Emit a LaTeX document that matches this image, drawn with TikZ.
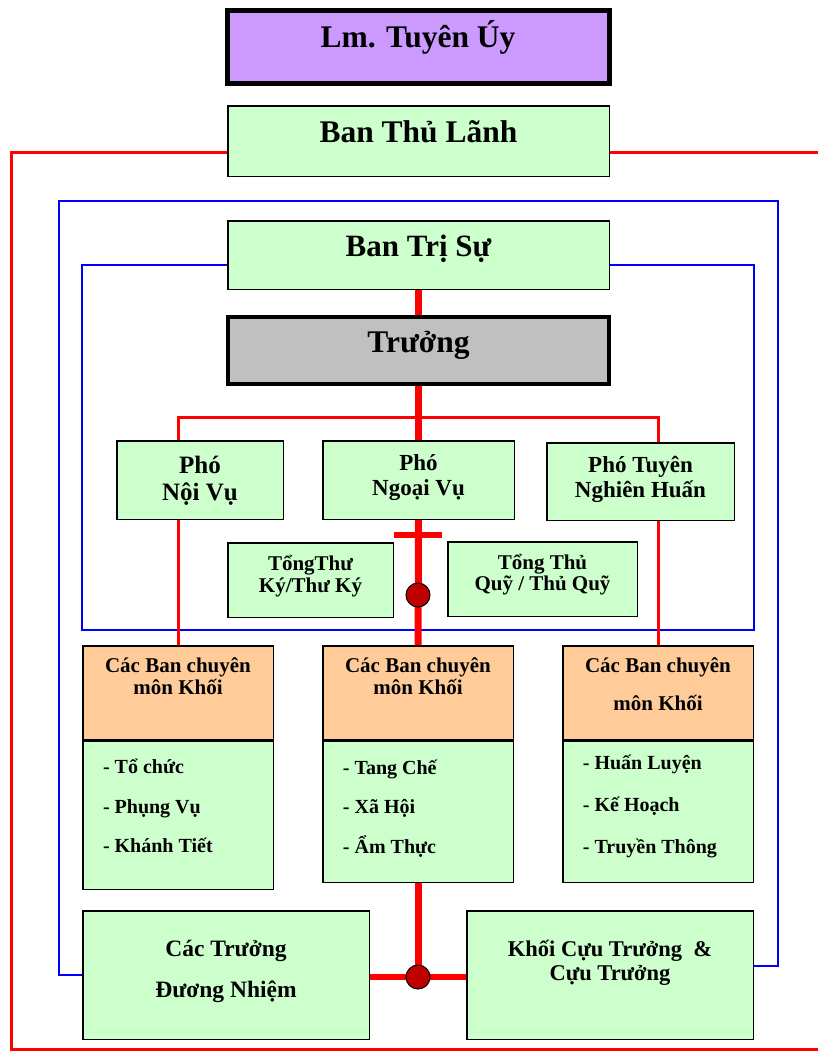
\documentclass[tikz,border=0pt]{standalone}
\usepackage{fontspec}
\setmainfont{Liberation Serif}
\usetikzlibrary{positioning}
\definecolor{boxgreen}{HTML}{CCFFCC}
\definecolor{boxviolet}{HTML}{CC99FF}
\definecolor{boxgray}{HTML}{C0C0C0}
\definecolor{boxorange}{HTML}{FFCC99}
\definecolor{dotred}{HTML}{C00000}
\newcommand{\tsize}[2]{\fontsize{#1}{#2}\selectfont}
\tikzset{
  box/.style={draw=black, line width=1.5pt, fill=boxgreen, inner sep=0pt},
  boxtext/.style={align=center, anchor=base, inner sep=0pt},
  listtext/.style={align=left, anchor=base west, inner sep=0pt},
  redline/.style={draw=red, line width=3pt},
  redtrunk/.style={draw=red, line width=7pt},
  blueline/.style={draw=blue, line width=2pt},
  joint/.style={circle, draw=black, line width=1pt, fill=dotred, minimum size=24pt, inner sep=0pt}
}
\begin{document}
\begin{tikzpicture}[x=1pt, y=-1pt]
\useasboundingbox (0,0) rectangle (818,1053);
% boxes
\node[box, fill=boxviolet, line width=5pt, minimum width=382pt, minimum height=73pt] (tuyenuy) at (418.5,47) {};
\node[box, minimum width=381.5pt, minimum height=70.5pt] (thulanh) at (418.5,141) {};
\node[box, minimum width=381.5pt, minimum height=68.5pt] (trisu) at (418.5,255) {};
\node[box, fill=boxgray, line width=4pt, minimum width=381pt, minimum height=67pt] (truong) at (418.5,350.5) {};
\node[box, minimum width=166.5pt, minimum height=78.5pt] (phonoivu) at (200,480) {};
\node[box, minimum width=191.5pt, minimum height=78.5pt] (phongoaivu) at (418.5,480) {};
\node[box, minimum width=187.5pt, minimum height=77.5pt] (photuyen) at (640.5,481.5) {};
\node[box, minimum width=165.5pt, minimum height=74.5pt] (thuky) at (310.5,580) {};
\node[box, minimum width=189.5pt, minimum height=74.5pt] (thuquy) at (542.5,579) {};
\node[box, fill=boxorange, minimum width=190.5pt, minimum height=93.5pt] (khoi1) at (178,692.5) {};
\node[box, minimum width=190.5pt, minimum height=148.5pt] (khoi1-list) at (178,815) {};
\node[box, fill=boxorange, minimum width=190.5pt, minimum height=93.5pt] (khoi2) at (418,692.5) {};
\node[box, minimum width=190.5pt, minimum height=141.5pt] (khoi2-list) at (418,811.5) {};
\node[box, fill=boxorange, minimum width=190.5pt, minimum height=93.5pt] (khoi3) at (658,692.5) {};
\node[box, minimum width=190.5pt, minimum height=141.5pt] (khoi3-list) at (658,811.5) {};
\node[box, minimum width=286.5pt, minimum height=128.5pt] (duongnhiem) at (226,975) {};
\node[box, minimum width=286.5pt, minimum height=128.5pt] (cuutruong) at (610,975) {};

% texts (multi-line: anchored at the last baseline)
\node[boxtext, font=\bfseries\tsize{31.5}{36}] (tuyenuy-t) at (418,47) {Lm. Tuyên Úy};
\node[boxtext, font=\bfseries\tsize{31.5}{36}] (thulanh-t) at (418.5,142) {Ban Thủ Lãnh};
\node[boxtext, font=\bfseries\tsize{31}{36}] (trisu-t) at (418.5,256) {Ban Trị Sự};
\node[boxtext, font=\bfseries\tsize{31.5}{36}] (truong-t) at (418.5,352) {Trưởng};
\node[boxtext, font=\bfseries\tsize{25}{27}] (phonoivu-t) at (200,500) {Phó\\Nội Vụ};
\node[boxtext, font=\bfseries\tsize{23}{24.5}] (phongoaivu-t) at (418.5,495) {Phó\\Ngoại Vụ};
\node[boxtext, font=\bfseries\tsize{23}{24.6}] (photuyen-t) at (640.5,497.3) {Phó Tuyên\\Nghiên Huấn};
\node[boxtext, font=\bfseries\tsize{21}{22.7}] (thuky-t) at (310.5,592.7) {TổngThư\\Ký/Thư Ký};
\node[boxtext, font=\bfseries\tsize{21}{21}] (thuquy-t) at (542.5,590) {Tổng Thủ\\Quỹ / Thủ Quỹ};
\node[boxtext, font=\bfseries\tsize{21}{21.7}] (khoi1-t) at (178,694) {Các Ban chuyên\\môn Khối};
\node[boxtext, font=\bfseries\tsize{21}{21.7}] (khoi2-t) at (418,694) {Các Ban chuyên\\môn Khối};
\node[boxtext, font=\bfseries\tsize{21}{38}] (khoi3-t) at (658,710) {Các Ban chuyên\\môn Khối};
\node[listtext, font=\bfseries\tsize{20}{39.7}] (khoi1-items) at (102.8,852.7) {- Tổ chức\\- Phụng Vụ\\- Khánh Tiết};
\node[listtext, font=\bfseries\tsize{20}{39.5}] (khoi2-items) at (342.7,853) {- Tang Chế\\- Xã Hội\\- Ẩm Thực};
\node[listtext, font=\bfseries\tsize{20}{42}] (khoi3-items) at (582.7,853.3) {- Huấn Luyện\\- Kế Hoạch\\- Truyền Thông};
\node[boxtext, font=\bfseries\tsize{23.5}{41}] (duongnhiem-t) at (226,997.7) {Các Trưởng\\Đương Nhiệm};
\node[boxtext, font=\bfseries\tsize{22.5}{24}] (cuutruong-t) at (610,980) {Khối Cựu Trưởng~ \&\\Cựu Trưởng};

% red outer loop
\coordinate (loopNW) at (11,152);
\coordinate (loopSW) at (11,1049);
\coordinate (loopSE) at (824,1049);
\coordinate (loopNE) at (824,152);
\draw[redline] (thulanh.west |- loopNW) -- (loopNW) -- (loopSW) -- (loopSE);
\draw[redline] (thulanh.east |- loopNE) -- (loopNE);

% blue frames
\coordinate (outerNW) at (59,201);
\coordinate (outerNE) at (778,201);
\draw[blueline] (duongnhiem.west) -| (outerNW) -- (outerNE) |- ([yshift=9pt]cuutruong.east);
\coordinate (innerSW) at (82,630);
\coordinate (innerSE) at (754,630);
\draw[blueline] ([yshift=-10pt]trisu.west) -| (innerSW) -- (innerSE) |- ([yshift=-10pt]trisu.east);

% red trunk and branches
\draw[redtrunk] (trisu.south) -- (truong.north);
\draw[redtrunk] (truong.south) -- (phongoaivu.north);
\coordinate (fork) at (418,417);
\draw[redline] (khoi1.north |- phonoivu.north) |- (fork) -| (khoi3.north |- photuyen.north);
\draw[redline] (khoi1.north |- phonoivu.south) -- (khoi1.north);
\draw[redline] (khoi3.north |- photuyen.south) -- (khoi3.north);
\draw[redtrunk] (phongoaivu.south) -- (khoi2.north);
\coordinate (barL) at (394,534.5);
\coordinate (barR) at (442,534.5);
\draw[red, line width=6pt] (barL) -- (barR);
\node[joint] (joint1) at (418,595) {};

% bottom joint
\coordinate (base) at (418,977);
\draw[redtrunk] (khoi2-list.south) -- (base);
\draw[red, line width=6pt] (duongnhiem.east |- base) -- (cuutruong.west |- base);
\node[joint] (joint2) at (base) {};
\end{tikzpicture}
\end{document}
